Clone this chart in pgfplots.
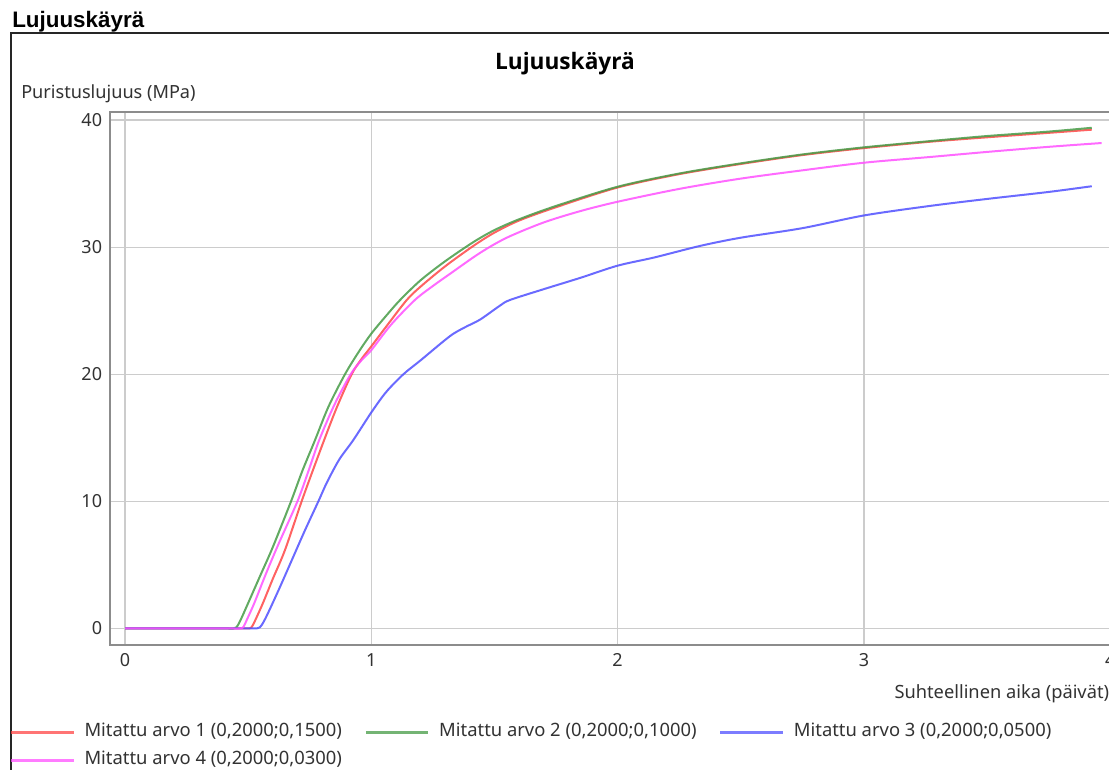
\documentclass[border=0pt]{standalone}
\usepackage{pgfplots}
\pgfplotsset{compat=1.18}
\usepackage{fontspec}
\setmainfont{Noto Sans}
\newfontfamily\arialfont{Liberation Sans}
\newfontfamily\titlefont{Open Sans}
\definecolor{cred}{RGB}{255,70,70}
\definecolor{cgreen}{RGB}{70,155,70}
\definecolor{cblue}{RGB}{80,80,255}
\definecolor{cpink}{RGB}{255,80,255}
\definecolor{txt}{RGB}{50,50,50}
\begin{document}
\begin{tikzpicture}
\useasboundingbox (0,0) rectangle (831.75pt,-576.75pt);
\draw[black!85, line width=1.1pt] (8.25pt,-580pt) -- (8.25pt,-24.75pt) -- (835pt,-24.75pt);
\node[anchor=base west, inner sep=0pt, font=\arialfont\bfseries\fontsize{16.8}{19}\selectfont] at (9pt,-20.25pt) {Lujuuskäyrä};
\node[anchor=base, inner sep=0pt, font=\titlefont\bfseries\fontsize{17}{20}\selectfont] at (423.75pt,-51.75pt) {Lujuuskäyrä};
\node[anchor=base west, inner sep=0pt, font=\fontsize{13.6}{16}\selectfont, text=txt] at (15.75pt,-73.5pt) {Puristuslujuus (MPa)};
\node[anchor=base east, inner sep=0pt, font=\fontsize{13.7}{16}\selectfont, text=txt] at (832pt,-523.5pt) {Suhteellinen aika (päivät)};
\begin{axis}[
  at={(82.5pt,-483.75pt)}, anchor=south west,
  scale only axis, width=759.4pt, height=399.75pt,
  xmin=-0.0609, xmax=4.05, ymin=-1.3, ymax=40.64,
  xtick={0,1,2,3,4}, ytick={0,10,20,30,40},
  grid=major, major grid style={gray!40, line width=1.1pt},
  axis line style={black!45, line width=1.2pt},
  major tick length=0pt,
  /pgf/number format/assume math mode=true,
  tick label style={font=\fontsize{13.5}{16}\selectfont, text=txt},
  xticklabel style={yshift=-3pt},
  yticklabel style={xshift=-2.4pt},
  legend columns=3,
  legend cell align=left,
  legend image code/.code={\draw[#1, line width=2.2pt, opacity=0.75] (0pt,0pt) -- (47pt,0pt);},
  legend style={at={(axis description cs:-0.0994,-0.142)}, anchor=north west,
    draw=none, fill=none, inner xsep=0pt, inner ysep=0pt,
    font=\fontsize{13.8}{16}\selectfont, text=txt,
    nodes={inner sep=2pt, text height=10pt, text depth=3pt},
    row sep=4pt,
    /tikz/every odd column/.append style={column sep=5pt},
    /tikz/every even column/.append style={column sep=14.75pt}},
  every axis plot/.append style={line width=1.5pt, opacity=0.85, smooth, tension=0.5},
]
\addplot[cred] coordinates {(0,0) (0.1,0) (0.2,0) (0.3,0) (0.38,0) (0.44,0) (0.475,0) (0.49,0) (0.50,0) (0.514,0.1) (0.53,0.7) (0.56,2.0) (0.60,3.9) (0.65,6.2) (0.717,10.0) (0.76,12.3) (0.808,14.8) (0.86,17.4) (0.92,20.0) (0.96,21.2) (1.0,22.2) (1.07,24.0) (1.144,25.85) (1.2,26.9) (1.3,28.5) (1.414,30.1) (1.5,31.15) (1.6,32.1) (1.75,33.15) (2.0,34.7) (2.25,35.75) (2.5,36.55) (2.75,37.25) (3.0,37.8) (3.268,38.3) (3.5,38.65) (3.75,39.0) (3.925,39.25)};
\addlegendentry{Mitattu arvo 1 (0,2000;0,1500)}
\addplot[cgreen] coordinates {(0,0) (0.1,0) (0.2,0) (0.3,0) (0.36,0) (0.4,0) (0.42,0) (0.44,0) (0.453,0.1) (0.47,0.7) (0.50,2.0) (0.55,4.2) (0.60,6.4) (0.674,10.0) (0.72,12.4) (0.771,14.8) (0.826,17.45) (0.893,20.0) (0.95,21.8) (1.0,23.2) (1.06,24.6) (1.117,25.85) (1.2,27.4) (1.3,28.9) (1.414,30.4) (1.5,31.35) (1.6,32.2) (1.75,33.25) (2.0,34.76) (2.25,35.8) (2.5,36.6) (2.75,37.3) (3.0,37.86) (3.268,38.35) (3.5,38.75) (3.75,39.1) (3.925,39.4)};
\addlegendentry{Mitattu arvo 2 (0,2000;0,1000)}
\addplot[cblue] coordinates {(0,0) (0.1,0) (0.2,0) (0.3,0) (0.4,0) (0.46,0) (0.5,0) (0.518,0) (0.53,0) (0.548,0.1) (0.565,0.6) (0.59,1.6) (0.63,3.3) (0.68,5.5) (0.73,7.7) (0.785,10.0) (0.82,11.5) (0.87,13.3) (0.927,14.83) (1.0,17.0) (1.06,18.6) (1.13,20.0) (1.2,21.1) (1.319,23.0) (1.38,23.7) (1.441,24.3) (1.522,25.4) (1.563,25.85) (1.7,26.7) (1.85,27.6) (2.0,28.55) (2.15,29.2) (2.334,30.1) (2.5,30.75) (2.75,31.5) (3.0,32.5) (3.268,33.25) (3.5,33.8) (3.75,34.35) (3.925,34.8)};
\addlegendentry{Mitattu arvo 3 (0,2000;0,0500)}
\addplot[cpink] coordinates {(0,0) (0.1,0) (0.2,0) (0.3,0) (0.37,0) (0.42,0) (0.445,0) (0.465,0) (0.48,0.1) (0.495,0.7) (0.525,2.0) (0.57,4.2) (0.62,6.5) (0.70,10.0) (0.745,12.4) (0.788,14.8) (0.85,17.6) (0.916,20.0) (0.96,21.1) (1.0,21.9) (1.08,23.9) (1.177,25.85) (1.25,26.95) (1.319,27.9) (1.441,29.55) (1.55,30.75) (1.7,31.95) (1.85,32.85) (2.0,33.58) (2.253,34.6) (2.5,35.4) (2.75,36.05) (3.0,36.65) (3.268,37.1) (3.5,37.5) (3.75,37.9) (3.965,38.2)};
\addlegendentry{Mitattu arvo 4 (0,2000;0,0300)}
\end{axis}
\end{tikzpicture}
\end{document}
